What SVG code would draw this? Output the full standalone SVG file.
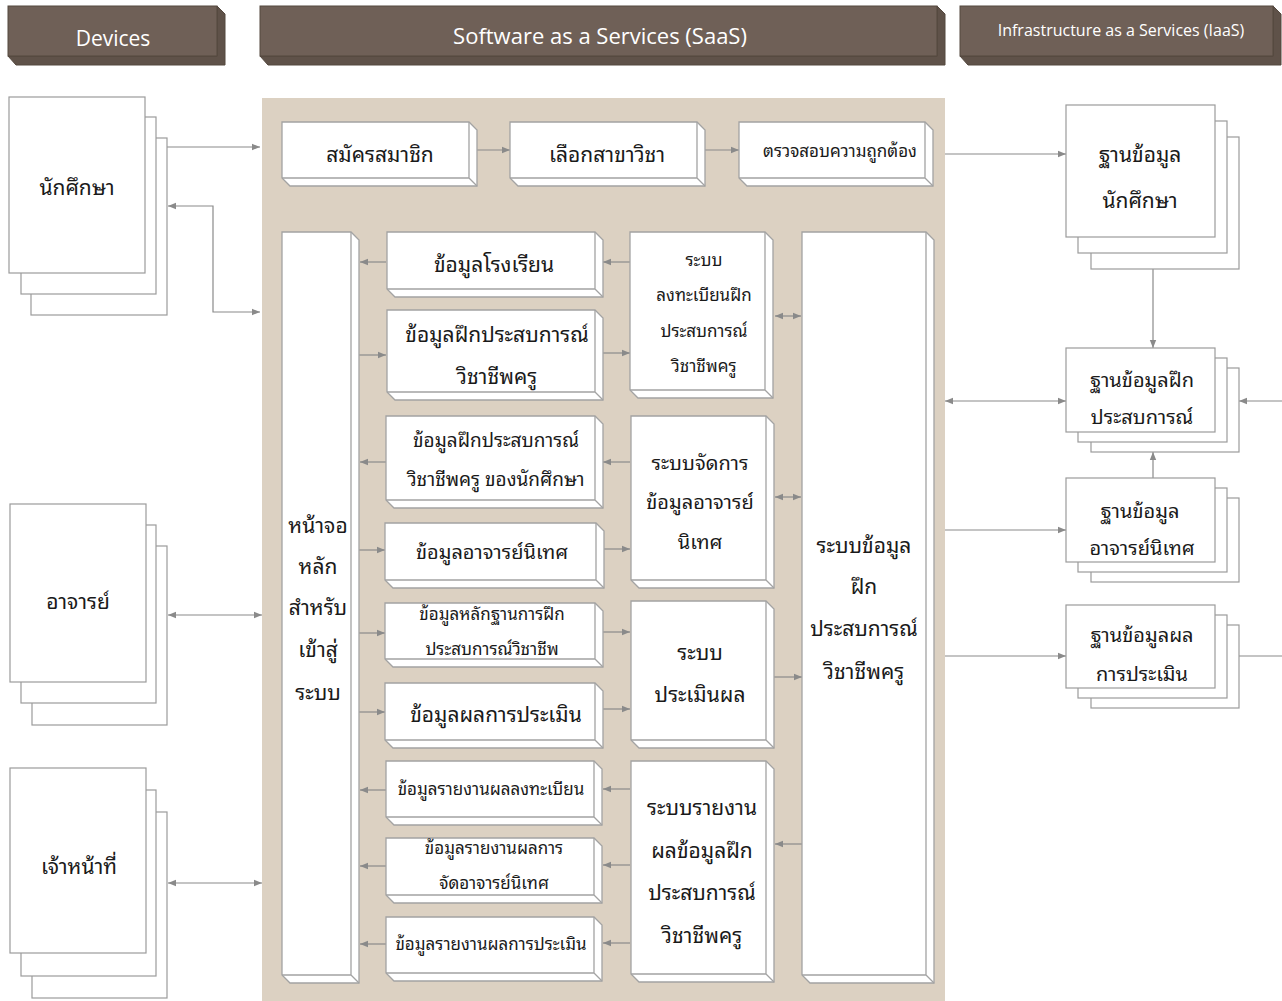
<svg xmlns="http://www.w3.org/2000/svg" width="1282" height="1001" viewBox="0 0 1282 1001">
  <defs>
    <marker id="ah" viewBox="0 0 10 10" refX="10" refY="5" markerWidth="8" markerHeight="8" markerUnits="userSpaceOnUse" orient="auto-start-reverse">
      <path d="M0,1 L10,5 L0,9 Z" fill="#8a8a8a"/>
    </marker>
    <style>
      .hdr { fill: #6f6057; stroke: #54483f; stroke-width: 1; }
      .hdr-side { fill: #5f5249; stroke: #54483f; stroke-width: 1; }
      .hdr-t { font-family: "Open Sans", "Noto Sans", "DejaVu Sans", sans-serif; fill: #ffffff; text-anchor: middle; dominant-baseline: central; }
      .box { fill: #ffffff; stroke: #a3a3a3; stroke-width: 1.3; }
      .edge { fill: none; stroke: #a3a3a3; stroke-width: 1.3; }
      .doc { fill: #ffffff; stroke: #9b9b9b; stroke-width: 1.2; }
      .t { font-family: "Noto Sans Thai Looped", "Loma", "Garuda", "Norasi", "Tahoma", "Noto Sans Thai", "Noto Sans", sans-serif; fill: #1a1a1a; text-anchor: middle; dominant-baseline: central; transform: translate(0px, -2px); }
      .s16 { font-size: 16px; } .s17 { font-size: 17px; } .s18 { font-size: 18px; } .s19 { font-size: 19px; } .s20 { font-size: 20px; } .s21 { font-size: 21px; }
      .ln { fill: none; stroke: #8a8a8a; stroke-width: 1.2; }
      .a1 { marker-end: url(#ah); }
      .a2 { marker-start: url(#ah); marker-end: url(#ah); }
    </style>
  </defs>

  <rect width="1282" height="1001" fill="#ffffff"/>

  <!-- column headers -->
  <g id="hdr-devices">
    <path class="hdr-side" d="M217,6 L225,14 V65 H16 L8,56 H217 Z"/>
    <rect class="hdr" x="8" y="6" width="209" height="50"/>
    <text class="hdr-t" x="113" y="38" font-size="21">Devices</text>
  </g>
  <g id="hdr-saas">
    <path class="hdr-side" d="M937,6 L945,14 V65 H268 L260,56 H937 Z"/>
    <rect class="hdr" x="260" y="6" width="677" height="50"/>
    <text class="hdr-t" x="600" y="35" font-size="22">Software as a Services (SaaS)</text>
  </g>
  <g id="hdr-iaas">
    <path class="hdr-side" d="M1273,6 L1281,14 V65 H968 L960,56 H1273 Z"/>
    <rect class="hdr" x="960" y="6" width="313" height="50"/>
    <text class="hdr-t" x="1121" y="30" font-size="16">Infrastructure as a Services (IaaS)</text>
  </g>

  <!-- SaaS panel -->
  <rect id="saas-panel" x="262" y="98" width="683" height="903" fill="#dcd1c2"/>

  <!-- connectors -->
  <g id="connectors">
    <path class="ln a1" d="M167,147 H260"/>
    <path class="ln a2" d="M168,206 H213 V312 H260"/>
    <path class="ln a2" d="M168,615 H262"/>
    <path class="ln a2" d="M168,883 H262"/>

    <path class="ln a1" d="M477,150 H510"/>
    <path class="ln a1" d="M705,150 H739"/>

    <path class="ln a1" d="M630,262 H603"/>
    <path class="ln a1" d="M386,262 H360"/>
    <path class="ln a1" d="M359,355 H386"/>
    <path class="ln a1" d="M603,353 H630"/>
    <path class="ln a1" d="M630,462 H603"/>
    <path class="ln a1" d="M386,462 H360"/>
    <path class="ln a1" d="M359,550 H385"/>
    <path class="ln a1" d="M603,549 H630"/>
    <path class="ln a1" d="M359,633 H385"/>
    <path class="ln a1" d="M603,632 H630"/>
    <path class="ln a1" d="M359,712 H385"/>
    <path class="ln a1" d="M603,709 H630"/>
    <path class="ln a1" d="M630,789 H603"/>
    <path class="ln a1" d="M386,790 H360"/>
    <path class="ln a1" d="M630,865 H603"/>
    <path class="ln a1" d="M386,866 H360"/>
    <path class="ln a1" d="M630,943 H603"/>
    <path class="ln a1" d="M386,944 H360"/>

    <path class="ln a2" d="M775,316 H801"/>
    <path class="ln a2" d="M775,497 H801"/>
    <path class="ln a1" d="M774,677 H802"/>
    <path class="ln a1" d="M802,844 H775"/>

    <path class="ln a1" d="M945,154 H1066"/>
    <path class="ln a1" d="M1153,269 V348"/>
    <path class="ln a2" d="M945,401 H1066"/>
    <path class="ln a1" d="M1282,401 H1239"/>
    <path class="ln a1" d="M1153,478 V452"/>
    <path class="ln a1" d="M945,530 H1066"/>
    <path class="ln a1" d="M945,656 H1066"/>
    <path class="ln" d="M1239,656 H1282"/>
  </g>

  <!-- device stacks -->
  <g id="dev-student">
    <rect class="doc" x="31" y="138" width="136" height="177"/>
    <rect class="doc" x="21" y="117" width="135" height="177"/>
    <rect class="doc" x="9" y="97" width="136" height="176"/>
    <text class="t s21" x="77" y="187">นักศึกษา</text>
  </g>
  <g id="dev-teacher">
    <rect class="doc" x="32" y="546" width="135" height="179"/>
    <rect class="doc" x="21" y="525" width="135" height="178"/>
    <rect class="doc" x="10" y="504" width="136" height="178"/>
    <text class="t s21" x="78" y="601">อาจารย์</text>
  </g>
  <g id="dev-staff">
    <rect class="doc" x="32" y="812" width="135" height="186"/>
    <rect class="doc" x="21" y="790" width="135" height="186"/>
    <rect class="doc" x="10" y="768" width="136" height="185"/>
    <text class="t s21" x="79" y="866">เจ้าหน้าที่</text>
  </g>

  <!-- registration flow -->
  <g id="n-signup">
    <path class="box" d="M282,122 H469 L477,130 V186 H290 L282,178 Z"/>
    <path class="edge" d="M469,122 V178 H282 M469,178 L477,186"/>
    <text class="t s21" x="380" y="154">สมัครสมาชิก</text>
  </g>
  <g id="n-major">
    <path class="box" d="M510,122 H697 L705,130 V186 H518 L510,178 Z"/>
    <path class="edge" d="M697,122 V178 H510 M697,178 L705,186"/>
    <text class="t s21" x="607" y="154">เลือกสาขาวิชา</text>
  </g>
  <g id="n-verify">
    <path class="box" d="M739,122 H925 L933,130 V186 H747 L739,178 Z"/>
    <path class="edge" d="M925,122 V178 H739 M925,178 L933,186"/>
    <text class="t s17" x="840" y="151">ตรวจสอบความถูกต้อง</text>
  </g>

  <!-- main login screen -->
  <g id="n-login">
    <path class="box" d="M282,232 H351 L359,240 V983 H290 L282,975 Z"/>
    <path class="edge" d="M351,232 V975 H282 M351,975 L359,983"/>
    <text class="t s21" x="318" y="525">หน้าจอ</text>
    <text class="t s21" x="318" y="566">หลัก</text>
    <text class="t s21" x="318" y="607">สำหรับ</text>
    <text class="t s21" x="318" y="649">เข้าสู่</text>
    <text class="t s21" x="318" y="692">ระบบ</text>
  </g>

  <!-- data boxes -->
  <g id="d-school">
    <path class="box" d="M387,232 H595 L603,240 V297 H395 L387,289 Z"/>
    <path class="edge" d="M595,232 V289 H387 M595,289 L603,297"/>
    <text class="t s21" x="494" y="264">ข้อมูลโรงเรียน</text>
  </g>
  <g id="d-practicum">
    <path class="box" d="M387,310 H595 L603,318 V400 H395 L387,392 Z"/>
    <path class="edge" d="M595,310 V392 H387 M595,392 L603,400"/>
    <text class="t s21" x="497" y="334">ข้อมูลฝึกประสบการณ์</text>
    <text class="t s21" x="497" y="376">วิชาชีพครู</text>
  </g>
  <g id="d-student-practicum">
    <path class="box" d="M386,416 H595 L603,424 V508 H394 L386,500 Z"/>
    <path class="edge" d="M595,416 V500 H386 M595,500 L603,508"/>
    <text class="t s19" x="496" y="440">ข้อมูลฝึกประสบการณ์</text>
    <text class="t s19" x="496" y="479">วิชาชีพครู ของนักศึกษา</text>
  </g>
  <g id="d-supervisor">
    <path class="box" d="M385,523 H596 L604,531 V588 H393 L385,580 Z"/>
    <path class="edge" d="M596,523 V580 H385 M596,580 L604,588"/>
    <text class="t s20" x="492" y="552">ข้อมูลอาจารย์นิเทศ</text>
  </g>
  <g id="d-evidence">
    <path class="box" d="M385,603 H595 L603,611 V667 H393 L385,659 Z"/>
    <path class="edge" d="M595,603 V659 H385 M595,659 L603,667"/>
    <text class="t s17" x="492" y="614">ข้อมูลหลักฐานการฝึก</text>
    <text class="t s17" x="492" y="649">ประสบการณ์วิชาชีพ</text>
  </g>
  <g id="d-eval">
    <path class="box" d="M385,683 H595 L603,691 V748 H393 L385,740 Z"/>
    <path class="edge" d="M595,683 V740 H385 M595,740 L603,748"/>
    <text class="t s21" x="496" y="714">ข้อมูลผลการประเมิน</text>
  </g>
  <g id="d-rep-reg">
    <path class="box" d="M386,761 H594 L602,769 V825 H394 L386,817 Z"/>
    <path class="edge" d="M594,761 V817 H386 M594,817 L602,825"/>
    <text class="t s17" x="491" y="789">ข้อมูลรายงานผลลงทะเบียน</text>
  </g>
  <g id="d-rep-sup">
    <path class="box" d="M386,838 H594 L602,846 V903 H394 L386,895 Z"/>
    <path class="edge" d="M594,838 V895 H386 M594,895 L602,903"/>
    <text class="t s17" x="494" y="848">ข้อมูลรายงานผลการ</text>
    <text class="t s17" x="494" y="883">จัดอาจารย์นิเทศ</text>
  </g>
  <g id="d-rep-eval">
    <path class="box" d="M386,917 H594 L602,925 V981 H394 L386,973 Z"/>
    <path class="edge" d="M594,917 V973 H386 M594,973 L602,981"/>
    <text class="t s17" x="491" y="944">ข้อมูลรายงานผลการประเมิน</text>
  </g>

  <!-- subsystems -->
  <g id="s-register">
    <path class="box" d="M630,232 H765 L773,240 V398 H638 L630,390 Z"/>
    <path class="edge" d="M765,232 V390 H630 M765,390 L773,398"/>
    <text class="t s17" x="704" y="260">ระบบ</text>
    <text class="t s17" x="704" y="295">ลงทะเบียนฝึก</text>
    <text class="t s17" x="704" y="331">ประสบการณ์</text>
    <text class="t s17" x="704" y="366">วิชาชีพครู</text>
  </g>
  <g id="s-supervisor">
    <path class="box" d="M631,416 H766 L774,424 V588 H639 L631,580 Z"/>
    <path class="edge" d="M766,416 V580 H631 M766,580 L774,588"/>
    <text class="t s20" x="700" y="463">ระบบจัดการ</text>
    <text class="t s20" x="700" y="502">ข้อมูลอาจารย์</text>
    <text class="t s20" x="700" y="542">นิเทศ</text>
  </g>
  <g id="s-eval">
    <path class="box" d="M631,601 H766 L774,609 V748 H639 L631,740 Z"/>
    <path class="edge" d="M766,601 V740 H631 M766,740 L774,748"/>
    <text class="t s21" x="700" y="652">ระบบ</text>
    <text class="t s21" x="700" y="694">ประเมินผล</text>
  </g>
  <g id="s-report">
    <path class="box" d="M631,761 H766 L774,769 V982 H639 L631,974 Z"/>
    <path class="edge" d="M766,761 V974 H631 M766,974 L774,982"/>
    <text class="t s21" x="702" y="807">ระบบรายงาน</text>
    <text class="t s21" x="702" y="850">ผลข้อมูลฝึก</text>
    <text class="t s21" x="702" y="892">ประสบการณ์</text>
    <text class="t s21" x="702" y="935">วิชาชีพครู</text>
  </g>

  <!-- core information system -->
  <g id="s-core">
    <path class="box" d="M802,232 H926 L934,240 V983 H810 L802,975 Z"/>
    <path class="edge" d="M926,232 V975 H802 M926,975 L934,983"/>
    <text class="t s21" x="864" y="545">ระบบข้อมูล</text>
    <text class="t s21" x="864" y="586">ฝึก</text>
    <text class="t s21" x="864" y="628">ประสบการณ์</text>
    <text class="t s21" x="864" y="671">วิชาชีพครู</text>
  </g>

  <!-- databases -->
  <g id="db-student">
    <rect class="doc" x="1091" y="137" width="148" height="132"/>
    <rect class="doc" x="1078" y="121" width="149" height="132"/>
    <rect class="doc" x="1066" y="105" width="149" height="132"/>
    <text class="t s21" x="1140" y="154">ฐานข้อมูล</text>
    <text class="t s21" x="1140" y="200">นักศึกษา</text>
  </g>
  <g id="db-practicum">
    <rect class="doc" x="1091" y="368" width="148" height="84"/>
    <rect class="doc" x="1078" y="358" width="149" height="84"/>
    <rect class="doc" x="1066" y="348" width="149" height="84"/>
    <text class="t s20" x="1142" y="380">ฐานข้อมูลฝึก</text>
    <text class="t s20" x="1142" y="417">ประสบการณ์</text>
  </g>
  <g id="db-supervisor">
    <rect class="doc" x="1091" y="498" width="148" height="84"/>
    <rect class="doc" x="1078" y="488" width="149" height="84"/>
    <rect class="doc" x="1066" y="478" width="149" height="84"/>
    <text class="t s20" x="1140" y="511">ฐานข้อมูล</text>
    <text class="t s20" x="1142" y="548">อาจารย์นิเทศ</text>
  </g>
  <g id="db-eval">
    <rect class="doc" x="1091" y="625" width="148" height="83"/>
    <rect class="doc" x="1078" y="615" width="149" height="83"/>
    <rect class="doc" x="1066" y="605" width="149" height="83"/>
    <text class="t s20" x="1142" y="635">ฐานข้อมูลผล</text>
    <text class="t s20" x="1142" y="674">การประเมิน</text>
  </g>
</svg>
